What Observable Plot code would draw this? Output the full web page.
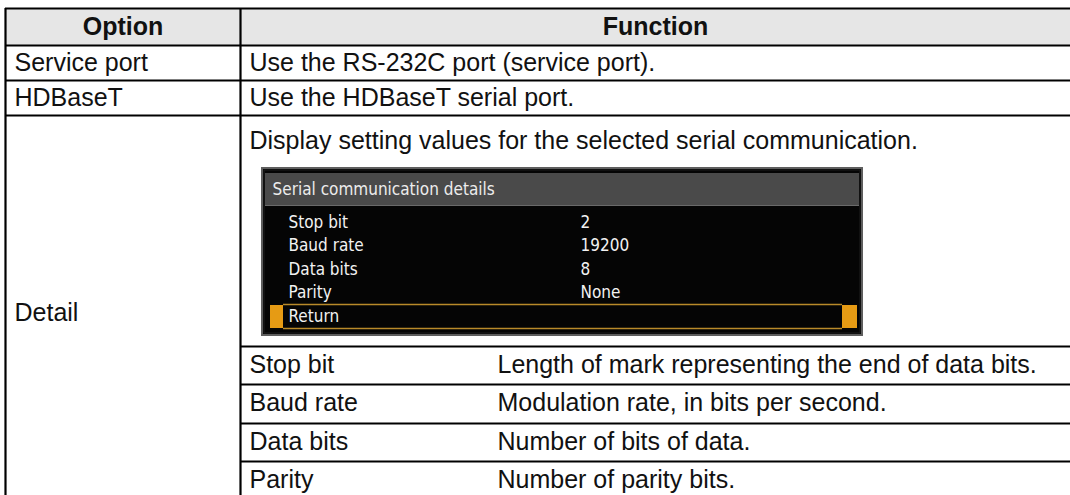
<!DOCTYPE html>
<html>
<head>
<meta charset="utf-8">
<script src="https://cdn.jsdelivr.net/npm/d3@7"></script>
<script src="https://cdn.jsdelivr.net/npm/@observablehq/plot@0.6"></script>
<style>
  html, body { margin: 0; padding: 0; background: #ffffff; }
  #chart svg { display: block; background: #ffffff; }
</style>
</head>
<body>
<div id="chart"></div>
<script>
// ---- Data (table content) ----
const headers = ["Option", "Function"];
const options = ["Service port", "HDBaseT", "Detail"];
const functions = [
  "Use the RS-232C port (service port).",
  "Use the HDBaseT serial port.",
  "Display setting values for the selected serial communication."
];
const screenTitle = "Serial communication details";
const screenLabels = ["Stop bit", "Baud rate", "Data bits", "Parity", "Return"];
const screenValues = ["2", "19200", "8", "None", ""];
const detailItems = ["Stop bit", "Baud rate", "Data bits", "Parity"];
const detailDescriptions = [
  "Length of mark representing the end of data bits.",
  "Modulation rate, in bits per second.",
  "Number of bits of data.",
  "Number of parity bits."
];

// ---- Layout (computed, not data) ----
const W = 1070, H = 495;
const xL = 5, xC = 240, xR = W;
const rowEdges = [8, 45, 80, 115, H];           // header, 2 rows, detail row
const subEdges = [346, 384, 423, 461, 500];       // detail sub-table rows
const box = {x1: 262, x2: 862, y1: 168, y2: 335};
const band = {x1: 265, x2: 859, y1: 173, y2: 205};
const itemY0 = 222, itemStep = 23.5;
const mid = (a, b) => (a + b) / 2;

const headerCells = headers.map((h, i) => ({
  text: h,
  x: i === 0 ? mid(xL, xC) : mid(xC, xR),
  y: mid(rowEdges[0], rowEdges[1])
}));
const optionCells = options.map((o, i) => ({
  text: o, x: xL + 9,
  y: i < 2 ? mid(rowEdges[i + 1], rowEdges[i + 2]) : 312
}));
const functionCells = functions.map((f, i) => ({
  text: f, x: xC + 9,
  y: i < 2 ? mid(rowEdges[i + 1], rowEdges[i + 2]) : 140
}));
const subLabelCells = detailItems.map((d, i) => ({text: d, x: xC + 9, y: mid(subEdges[i], subEdges[i + 1]) - 1}));
const subDescCells = detailDescriptions.map((d, i) => ({text: d, x: 497, y: mid(subEdges[i], subEdges[i + 1]) - 1}));
const screenLabelCells = screenLabels.map((s, i) => ({text: s, x: 288, y: itemY0 + i * itemStep}));
const screenValueCells = screenValues.map((s, i) => ({text: s, x: 580, y: itemY0 + i * itemStep}));

const hLines = [
  ...rowEdges.slice(0, 4).map(y => ({y, x1: xL, x2: xR})),
  ...subEdges.slice(0, 4).map(y => ({y, x1: xC, x2: xR}))
];
const vLines = [
  {x: xL, y1: rowEdges[0], y2: H},
  {x: xC, y1: rowEdges[0], y2: H}
];
const retY = itemY0 + 4 * itemStep;
const hiLines = [retY - 12, retY + 12].map(y => ({y, x1: 283, x2: 842}));
const hiBlocks = [{x1: 270, x2: 283}, {x1: 842, x2: 857}].map(b => ({...b, y1: retY - 11, y2: retY + 12}));

const font = "'Liberation Sans', Arial, sans-serif";
const screenFont = "'DejaVu Sans Condensed', 'DejaVu Sans', sans-serif";
const fs = 25;

const chart = Plot.plot({
  width: W, height: H,
  margin: 0,
  x: {domain: [0, W], range: [0, W], axis: null},
  y: {domain: [0, H], range: [0, H], axis: null},
  style: {background: "#ffffff"},
  marks: [
    // header background
    Plot.rect([{x1: xL, x2: xR, y1: rowEdges[0], y2: rowEdges[1]}], {x1: "x1", x2: "x2", y1: "y1", y2: "y2", fill: "#e6e6e6"}),
    // screenshot box
    Plot.rect([box], {x1: "x1", x2: "x2", y1: "y1", y2: "y2", fill: "#050505", stroke: "#5e5e5e", strokeWidth: 2}),
    Plot.rect([box], {x1: d => d.x1 + 2, x2: d => d.x2 - 2, y1: d => d.y1 + 2, y2: d => d.y2 - 2, fill: "none", stroke: "#1e1e1e", strokeWidth: 1}),
    Plot.rect([band], {x1: "x1", x2: "x2", y1: "y1", y2: "y2", fill: "#4a4a4a"}),
    Plot.ruleY([band.y2], {x1: band.x1, x2: band.x2, stroke: "#6a6a6a", strokeWidth: 1}),
    Plot.ruleY(hiLines, {y: "y", x1: "x1", x2: "x2", stroke: "#b98a2a", strokeWidth: 1.6}),
    Plot.rect(hiBlocks, {x1: "x1", x2: "x2", y1: "y1", y2: "y2", fill: "#e69b14"}),
    // table grid
    Plot.ruleY(hLines, {y: "y", x1: "x1", x2: "x2", stroke: "#000", strokeWidth: 2.2}),
    Plot.ruleX(vLines, {x: "x", y1: "y1", y2: "y2", stroke: "#000", strokeWidth: 2.2}),
    // text
    Plot.text(headerCells, {x: "x", y: "y", text: "text", fontSize: fs, fontWeight: "bold", fontFamily: font, fill: "#111", textAnchor: "middle", lineAnchor: "middle"}),
    Plot.text(optionCells, {x: "x", y: "y", text: "text", fontSize: fs, fontFamily: font, fill: "#111", textAnchor: "start", lineAnchor: "middle"}),
    Plot.text(functionCells, {x: "x", y: "y", text: "text", fontSize: fs, fontFamily: font, fill: "#111", textAnchor: "start", lineAnchor: "middle"}),
    Plot.text(subLabelCells, {x: "x", y: "y", text: "text", fontSize: fs, fontFamily: font, fill: "#111", textAnchor: "start", lineAnchor: "middle"}),
    Plot.text(subDescCells, {x: "x", y: "y", text: "text", fontSize: fs, fontFamily: font, fill: "#111", textAnchor: "start", lineAnchor: "middle"}),
    Plot.text([{text: screenTitle, x: 272, y: mid(band.y1, band.y2)}], {x: "x", y: "y", text: "text", fontSize: 17, fontFamily: screenFont, fill: "#ececec", textAnchor: "start", lineAnchor: "middle"}),
    Plot.text(screenLabelCells, {x: "x", y: "y", text: "text", fontSize: 17, fontFamily: screenFont, fill: "#f2f2f2", textAnchor: "start", lineAnchor: "middle"}),
    Plot.text(screenValueCells, {x: "x", y: "y", text: "text", fontSize: 17, fontFamily: screenFont, fill: "#f2f2f2", textAnchor: "start", lineAnchor: "middle"})
  ]
});
document.getElementById("chart").appendChild(chart);
</script>
</body>
</html>
